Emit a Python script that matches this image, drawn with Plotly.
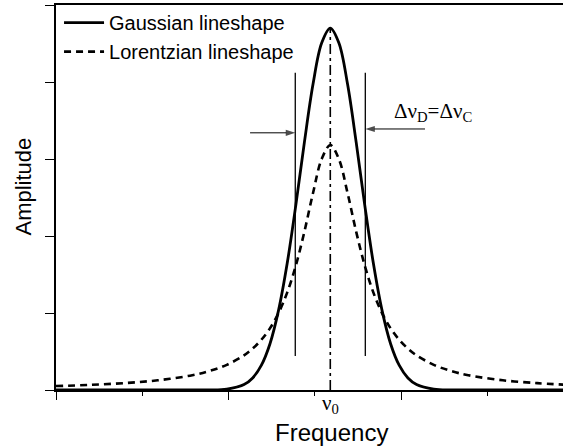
import plotly.graph_objects as go

# ---- data ----
freq = [0, 1.9, 3.9, 5.9, 7.9, 8.9, 9.9, 10.9, 11.4, 11.9, 12.4, 12.9, 13.4, 13.9,
        14.4, 14.9, 15.4, 15.9, 16.4, 16.9, 17.4, 17.9, 18.4, 18.9, 19.4, 19.9,
        20.4, 20.9, 21.9, 22.9, 23.9, 25.9, 27.9, 29.4]
gaussian = [0, 0, 0, 0, 0, 0.001, 0.011, 0.07, 0.156, 0.319, 0.598, 1.034, 1.642, 2.398,
            3.219, 3.973, 4.506, 4.70, 4.506, 3.973, 3.219, 2.398, 1.642, 1.034,
            0.598, 0.319, 0.156, 0.07, 0.011, 0.001, 0, 0, 0, 0]
lorentzian = [0.051, 0.066, 0.089, 0.126, 0.192, 0.247, 0.327, 0.45, 0.538, 0.651, 0.80,
              0.999, 1.264, 1.614, 2.057, 2.559, 2.998, 3.18, 2.998, 2.559, 2.057, 1.614,
              1.264, 0.999, 0.80, 0.651, 0.538, 0.45, 0.327, 0.247, 0.192, 0.126, 0.089, 0.070]
nu0 = 15.9
fwhm_left = 13.87
fwhm_right = 17.93
fwhm_marker_y = [0.44, 4.12]
center_line_y = [0, 4.70]
arrow_left_x = [11.25, 13.87]
arrow_left_y = [3.34, 3.34]
arrow_right_x = [21.39, 17.93]
arrow_right_y = [3.39, 3.39]
x_range = [0, 29.39]
y_range = [0, 5]

SANS = "Arial, Liberation Sans, sans-serif"
SERIF = "Times New Roman, Liberation Serif, serif"

fig = go.Figure()
fig.add_trace(go.Scatter(x=freq, y=gaussian, mode="lines", name="Gaussian lineshape",
                         line=dict(color="black", width=2.8, shape="spline", smoothing=1)))
fig.add_trace(go.Scatter(x=freq, y=lorentzian, mode="lines", name="Lorentzian lineshape",
                         line=dict(color="black", width=2.6, dash="7px,5px", shape="spline", smoothing=1)))
fig.add_trace(go.Scatter(x=[nu0, nu0], y=center_line_y, mode="lines", showlegend=False,
                         line=dict(color="black", width=1.6, dash="10px,4px,3px,4px")))
for xv in (fwhm_left, fwhm_right):
    fig.add_trace(go.Scatter(x=[xv, xv], y=fwhm_marker_y, mode="lines", showlegend=False,
                             line=dict(color="black", width=1.3)))
for ax_, ay_ in ((arrow_left_x, arrow_left_y), (arrow_right_x, arrow_right_y)):
    fig.add_trace(go.Scatter(x=ax_, y=ay_, mode="lines+markers", showlegend=False,
                             line=dict(color="black", width=1),
                             marker=dict(symbol="arrow", angleref="previous", size=[0, 10],
                                         color="black", line=dict(width=0))))

fig.add_annotation(x=19.45, y=3.61, xref="x", yref="y", xanchor="left", yanchor="middle",
                   text="Δν<sub>D</sub>=Δν<sub>C</sub>", showarrow=False,
                   font=dict(family=SERIF, size=21, color="black"))
fig.add_annotation(x=nu0, y=-0.036, xref="x", yref="paper", xanchor="center", yanchor="middle",
                   text="ν<sub>0</sub>", showarrow=False,
                   font=dict(family=SERIF, size=21, color="black"))
fig.add_annotation(x=0.544, y=-0.111, xref="paper", yref="paper", xanchor="center",
                   yanchor="middle", text="Frequency", showarrow=False,
                   font=dict(family=SANS, size=24, color="black"))
fig.add_annotation(x=-0.065, y=0.5286, xref="paper", yref="paper", xanchor="center",
                   yanchor="middle", text="Amplitude", showarrow=False, textangle=-90,
                   font=dict(family=SANS, size=22, color="black"))

fig.update_layout(
    width=563, height=448,
    margin=dict(l=56, r=0, t=5, b=58),
    plot_bgcolor="white", paper_bgcolor="white",
    showlegend=True,
    legend=dict(x=0.006, y=1.005, xanchor="left", yanchor="top", bgcolor="rgba(0,0,0,0)",
                font=dict(family=SANS, size=20, color="black"), itemwidth=40,
                tracegroupgap=0),
)
fig.update_xaxes(range=x_range, showgrid=False, zeroline=False, showline=True,
                 linecolor="black", linewidth=1.5, mirror=True, ticks="outside",
                 tickcolor="black", ticklen=8, tickwidth=1.2, tick0=0, dtick=10,
                 showticklabels=False,
                 minor=dict(ticks="outside", dtick=5, tick0=0, ticklen=4, tickcolor="black",
                            tickwidth=1.2, showgrid=False))
fig.update_yaxes(range=y_range, showgrid=False, zeroline=False, showline=True,
                 linecolor="black", linewidth=1.5, mirror=False, ticks="outside",
                 tickcolor="black", ticklen=9, tickwidth=1.2, tick0=0, dtick=1,
                 showticklabels=False)

fig.write_html("out.html")
